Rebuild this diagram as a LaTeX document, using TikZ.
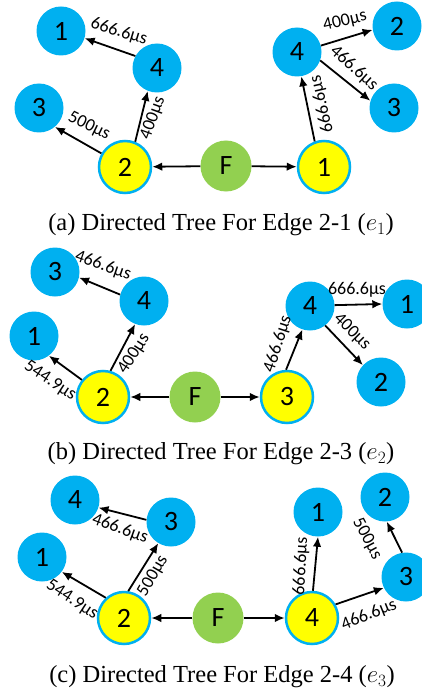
\documentclass[tikz,border=0pt]{standalone}
\usepackage{fontspec}
\setmainfont{Liberation Serif}
\newfontfamily\calfont{Carlito}
\usetikzlibrary{arrows.meta}
\definecolor{cblue}{RGB}{0,176,240}
\definecolor{cgreen}{RGB}{146,208,80}
\definecolor{cyellow}{RGB}{255,255,0}
\tikzset{
  bnode/.style={circle, fill=cblue, minimum size=49pt, inner sep=0pt, font=\calfont\fontsize{28}{30}\selectfont},
  ynode/.style={circle, fill=cyellow, draw=cblue, line width=2.5pt, minimum size=52pt, inner sep=0pt, font=\calfont\fontsize{28}{30}\selectfont},
  fnode/.style={circle, fill=cgreen, minimum size=51pt, inner sep=0pt, font=\calfont\fontsize{28}{30}\selectfont},
  arr/.style={-{Latex[length=10pt,width=8.5pt]}, line width=1.8pt},
  lbl/.style={font=\calfont\fontsize{18}{20}\selectfont, inner sep=0pt},
  captxt/.style={font=\fontsize{24.5}{29}\selectfont, inner sep=0pt}
}
\begin{document}
\begin{tikzpicture}[x=1pt,y=-1pt]
\useasboundingbox (0,0) rectangle (421,695);
% ---------- panel (a)
\node[bnode] (a1) at (61,31) {1};
\node[bnode] (a4) at (157,68) {4};
\node[bnode] (a3) at (39,108) {3};
\node[ynode] (a2) at (125,167) {2};
\node[fnode] (aF) at (226,166) {F};
\node[ynode] (aY1) at (324,167) {1};
\node[bnode] (aR4) at (297,52) {4};
\node[bnode] (aR2) at (397,26) {2};
\node[bnode] (aR3) at (394,108) {3};
\draw[arr] (aF) -- (a2);
\draw[arr] (aF) -- (aY1);
\draw[arr] (a2.150) -- (a3.-50);
\draw[arr] (a2.68) -- (a4.-112);
\draw[arr] (a4.151) -- (a1.-17);
\draw[arr] (aY1.110) -- (aR4.-80);
\draw[arr] (aR4.15) -- (aR2.189);
\draw[arr] (aR4.-20) -- (aR3.163);
\node[lbl, rotate=-17] (la41) at (119,32) {666.6µs};
\node[lbl, rotate=-26] (la23) at (89,126) {500µs};
\node[lbl, rotate=70] (la24) at (153,118) {400µs};
\node[lbl, rotate=103] (laY14) at (322,104) {666.6µs};
\node[lbl, rotate=13] (laR42) at (345,21) {400µs};
\node[lbl, rotate=-42] (laR43) at (354,68) {466.6µs};
\node[captxt] (capa) at (221,225) {(a) Directed Tree For Edge 2-1 ($e_1$)};
% ---------- panel (b)
\node[bnode] (b3) at (55,272) {3};
\node[bnode] (b4) at (144,301) {4};
\node[bnode] (b1) at (34,336) {1};
\node[ynode] (b2) at (103,397) {2};
\node[fnode] (bF) at (195,397) {F};
\node[ynode] (bY3) at (287,397) {3};
\node[bnode] (bR4) at (310,306) {4};
\node[bnode] (bR1) at (407,304) {1};
\node[bnode] (bR2) at (381,382) {2};
\draw[arr] (bF) -- (b2);
\draw[arr] (bF) -- (bY3);
\draw[arr] (b2.141) -- (b1.-53);
\draw[arr] (b2.74) -- (b4.-111);
\draw[arr] (b4.165) -- (b3.-13);
\draw[arr] (bY3.92) -- (bR4.-108);
\draw[arr] (bR4.2) -- (bR1.180);
\draw[arr] (bR4.-52) -- (bR2.137);
\node[lbl, rotate=-19] (lb43) at (103,266) {466.6µs};
\node[lbl, rotate=-33] (lb21) at (50,381) {544.9µs};
\node[lbl, rotate=57] (lb24) at (134,354) {400µs};
\node[lbl, rotate=72] (lbY34) at (278,344) {466.6µs};
\node[lbl] (lbR41) at (357,290) {666.6µs};
\node[lbl, rotate=-45] (lbR42) at (352,332) {400µs};
\node[captxt] (capb) at (221,454) {(b) Directed Tree For Edge 2-3 ($e_2$)};
% ---------- panel (c)
\node[bnode] (c4) at (75,500) {4};
\node[bnode] (c3) at (171,522) {3};
\node[bnode] (c1) at (42,557) {1};
\node[ynode] (c2) at (124,618) {2};
\node[fnode] (cF) at (218,618) {F};
\node[ynode] (cY4) at (312,618) {4};
\node[bnode] (cR1) at (318,512) {1};
\node[bnode] (cR2) at (385,497) {2};
\node[bnode] (cR3) at (406,577) {3};
\draw[arr] (cF) -- (c2);
\draw[arr] (cF) -- (cY4);
\draw[arr] (c2.132) -- (c1.-37);
\draw[arr] (c2.81) -- (c3.-121);
\draw[arr] (c3.175) -- (c4.-18);
\draw[arr] (cY4.88) -- (cR1.-90);
\draw[arr] (cY4.30) -- (cR3.206);
\draw[arr] (cR3.99) -- (cR2.-86);
\node[lbl, rotate=-20] (lc34) at (120,529) {466.6µs};
\node[lbl, rotate=-33] (lc21) at (72,600) {544.9µs};
\node[lbl, rotate=60] (lc23) at (153,576) {500µs};
\node[lbl, rotate=87] (lcY41) at (301,566) {666.6µs};
\node[lbl, rotate=22] (lcY43) at (369,615) {466.6µs};
\node[lbl, rotate=-62] (lcR32) at (367,539) {500µs};
\node[captxt] (capc) at (222,677) {(c) Directed Tree For Edge 2-4 ($e_3$)};
\end{tikzpicture}
\end{document}
